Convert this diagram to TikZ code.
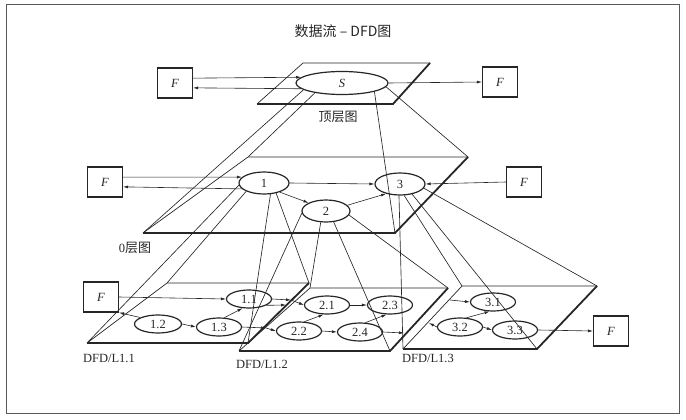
\documentclass[tikz,border=0pt]{standalone}
\usepackage{fontspec}
\setmainfont{Liberation Serif}
\newfontfamily\cjk{Noto Sans CJK SC}
\usetikzlibrary{shapes.geometric,arrows.meta}

\tikzset{
  proc/.style={draw, ellipse, line width=1.2pt, inner sep=0pt, minimum width=50pt, minimum height=22pt, font=\fontsize{12.5}{14}\selectfont},
  subproc/.style={proc, minimum width=45pt, minimum height=18pt},
  ext/.style={draw, line width=1.2pt, minimum width=35pt, minimum height=30pt, inner sep=0pt, font=\fontsize{12.5}{14}\selectfont\itshape},
  flow/.style={-{Latex[length=5pt,width=3pt]}, line width=0.6pt},
  proj/.style={line width=0.65pt},
  thinedge/.style={line width=0.7pt},
  thickedge/.style={line width=1.8pt},
  lab/.style={font=\fontsize{12.5}{14}\selectfont}
}

\newcommand{\dfdplane}[5]{%
  \coordinate (#1-tl) at (#2);
  \coordinate (#1-tr) at (#3);
  \coordinate (#1-br) at (#4);
  \coordinate (#1-bl) at (#5);
  \draw[thinedge] (#1-bl) -- (#1-tl) -- (#1-tr);
  \draw[thickedge] (#1-tr) -- (#1-br) -- (#1-bl);
}

\begin{document}
\begin{tikzpicture}[x=1pt, y=-1pt, color=black!85]
  \useasboundingbox (0,0) rectangle (686,420);
  \draw[black!65, line width=1pt] (6,5) rectangle (679,413);
  \node[font=\cjk\fontsize{14}{16}\selectfont] (title) at (343,31) {数据流 – DFD图};

  \dfdplane{top}{303,63}{430,63}{393,104}{257,104}
  \dfdplane{L0}{248,157}{468,157}{395,233}{143,233}
  \dfdplane{L11}{167,283}{309,283}{248,343}{87,343}
  \dfdplane{L12}{310,288}{448,288}{390,351}{239,351}
  \dfdplane{L13}{462,286}{597,286}{537,349}{403,349}

  \node[proc, minimum width=92pt, minimum height=23pt, font=\fontsize{12.5}{14}\selectfont\itshape] (S) at (342,83) {S};
  \node[ext] (FT) at (175,83) {F};
  \node[ext] (FR) at (500,82) {F};
  \node[font=\cjk\fontsize{13}{15}\selectfont] (toplab) at (338,117) {顶层图};

  \node[proc] (n1) at (264,183) {1};
  \node[proc, minimum width=48pt] (n2) at (326,211) {2};
  \node[proc] (n3) at (400,184) {3};
  \node[ext] (F0L) at (105,182) {F};
  \node[ext] (F0R) at (524,182) {F};
  \node[lab] (l0lab) at (135,248) {0{\cjk\fontsize{13}{15}\selectfont 层图}};

  \node[subproc] (n11) at (249,299) {1.1};
  \node[subproc, minimum width=47pt] (n12) at (158,324) {1.2};
  \node[subproc] (n13) at (219,327) {1.3};
  \node[ext] (F1) at (101,297) {F};
  \node[subproc] (n21) at (327,305) {2.1};
  \node[subproc] (n22) at (299,331) {2.2};
  \node[subproc] (n23) at (390,305) {2.3};
  \node[subproc] (n24) at (360,332) {2.4};
  \node[subproc] (n31) at (493,302) {3.1};
  \node[subproc] (n32) at (460,327) {3.2};
  \node[subproc] (n33) at (515,330) {3.3};
  \node[ext] (F2) at (611,331) {F};
  \node[lab] (l11lab) at (109,358) {DFD/L1.1};
  \node[lab] (l12lab) at (262,364) {DFD/L1.2};
  \node[lab] (l13lab) at (428,358) {DFD/L1.3};

  \draw[proj] (S.190) -- (L0-bl);
  \draw[proj] (S.200) -- (L0-tl);
  \draw[proj] (S.345) -- (L0-br);
  \draw[proj] (S.355) -- (L0-tr);
  \draw[proj] (n1.185) -- (L11-bl);
  \draw[proj] (n1.205) -- (L11-tl);
  \draw[proj] (n1.300) -- (L11-br);
  \draw[proj] (n1.320) -- (L11-tr);
  \draw[proj] (n2.185) -- (L12-bl);
  \draw[proj] (n2.245) -- (L12-tl);
  \draw[proj] (n2.305) -- (L12-br);
  \draw[proj] (n2.350) -- (L12-tr);
  \draw[proj] (n3.265) -- (L13-bl);
  \draw[proj] (n3.290) -- (L13-tl);
  \draw[proj] (n3.320) -- (L13-br);
  \draw[proj] (n3.350) -- (L13-tr);

  \draw[flow] (FT.15) -- (S.172);
  \draw[flow] (S.188) -- (FT.-15);
  \draw[flow] (S.east) -- (FR.west);

  \draw[flow] (F0L.15) -- (n1.165);
  \draw[flow] (n1.195) -- (F0L.-15);
  \draw[flow] (n1.east) -- (n3.west);
  \draw[flow] (n1.-30) -- (n2.155);
  \draw[flow] (n2.15) -- (n3.215);
  \draw[flow] (F0R.west) -- (n3.east);

  \coordinate (e1) at (291,300);
  \coordinate (e2) at (286,305);
  \coordinate (e3) at (266,328);
  \coordinate (e4) at (404,333);
  \coordinate (e5) at (450,300);
  \coordinate (e6) at (429,323);
  \draw[flow] (F1.east) -- (n11.180);
  \draw[flow] (n12.160) -- (F1.south east);
  \draw[flow] (n12.east) -- (n13.west);
  \draw[flow] (n13.60) -- (n11.235);
  \draw[flow] (n11.east) -- (e1);
  \draw[flow] (e1) -- (n21.west);
  \draw[flow] (n11.-20) -- (e2);
  \draw[flow] (n13.east) -- (e3);
  \draw[flow] (e3) -- (n22.west);
  \draw[flow] (n22.60) -- (n21.250);
  \draw[flow] (n21.east) -- (n23.west);
  \draw[flow] (n22.east) -- (n24.west);
  \draw[flow] (n24.60) -- (n23.250);
  \draw[flow] (n24.east) -- (e4);
  \draw[flow] (e5) -- (n31.west);
  \draw[flow] (n32.west) -- (e6);
  \draw[flow] (n32.55) -- (n31.250);
  \draw[flow] (n32.east) -- (n33.west);
  \draw[flow] (n33.east) -- (F2.west);
\end{tikzpicture}
\end{document}
